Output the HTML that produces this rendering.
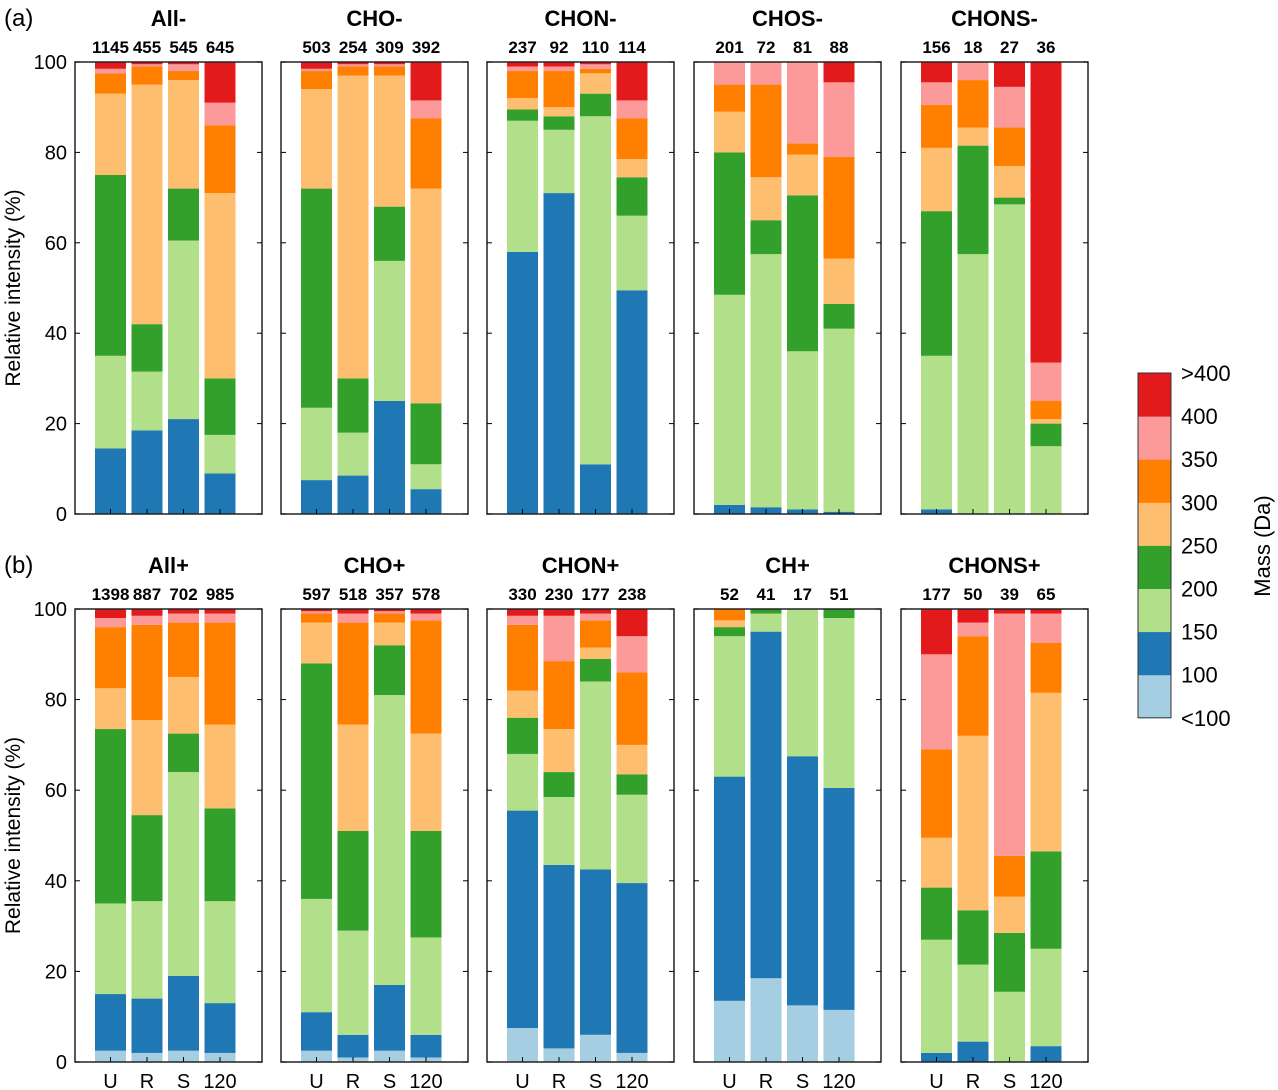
<!DOCTYPE html>
<html><head><meta charset="utf-8">
<style>
html,body{margin:0;padding:0;background:#fff;}
svg{display:block;font-family:"Liberation Sans",Arial,sans-serif;}
</style></head>
<body>
<svg id="chart" width="1278" height="1090" viewBox="0 0 1278 1090" xmlns="http://www.w3.org/2000/svg"></svg>
<script>
// ---- data ----
const categories = ["U","R","S","120"];
const massBins = ["<100","100","150","200","250","300","350",">400"];
const binColors = ["#a6cee3","#1f78b4","#b2df8a","#33a02c","#fdbf6f","#ff7f00","#fb9a99","#e31a1c"];
const colorbarLabels = [">400","400","350","300","250","200","150","100","<100"];
const yTicks = [0,20,40,60,80,100];
const panelTitles = ["All-","CHO-","CHON-","CHOS-","CHONS-","All+","CHO+","CHON+","CH+","CHONS+"];
const panelCounts = [
 [1145,455,545,645],[503,254,309,392],[237,92,110,114],[201,72,81,88],[156,18,27,36],
 [1398,887,702,985],[597,518,357,578],[330,230,177,238],[52,41,17,51],[177,50,39,65]
];
// cumulative percentage tops per bin (<100,100-150,...,>400) for U,R,S,120
const cumAllNeg = [[0,14.5,35,75,93,97.5,98.5,100],[0,18.5,31.5,42,95,99,99.5,100],[0,21,60.5,72,96,98,99.5,100],[0,9,17.5,30,71,86,91,100]];
const cumCHONeg = [[0,7.5,23.5,72,94,98,98.5,100],[0,8.5,18,30,97,99,99.5,100],[0,25,56,68,97,99,99.5,100],[0,5.5,11,24.5,72,87.5,91.5,100]];
const cumCHONNeg = [[0,58,87,89.5,92,98,99,100],[0,71,85,88,90,98,99,100],[0,11,88,93,97.5,98.5,99.5,100],[0,49.5,66,74.5,78.5,87.5,91.5,100]];
const cumCHOSNeg = [[0,2,48.5,80,89,95,100,100],[0,1.5,57.5,65,74.5,95,100,100],[0,1,36,70.5,79.5,82,100,100],[0,0.5,41,46.5,56.5,79,95.5,100]];
const cumCHONSNeg = [[0,1,35,67,81,90.5,95.5,100],[0,0,57.5,81.5,85.5,96,100,100],[0,0,68.5,70,77,85.5,94.5,100],[0,0,15,20,21,25,33.5,100]];
const cumAllPos = [[2.5,15,35,73.5,82.5,96,98,100],[2,14,35.5,54.5,75.5,96.5,98.5,100],[2.5,19,64,72.5,85,97,99,100],[2,13,35.5,56,74.5,97,99,100]];
const cumCHOPos = [[2.5,11,36,88,97,99,99.5,100],[1,6,29,51,74.5,97,99,100],[2.5,17,81,92,97,99,99.5,100],[1,6,27.5,51,72.5,97.5,99,100]];
const cumCHONPos = [[7.5,55.5,68,76,82,96.5,98.5,100],[3,43.5,58.5,64,73.5,88.5,98.5,100],[6,42.5,84,89,91.5,97.5,99,100],[2,39.5,59,63.5,70,86,94,100]];
const cumCHPos = [[13.5,63,94,96,97.5,100,100,100],[18.5,95,99,100,100,100,100,100],[12.5,67.5,100,100,100,100,100,100],[11.5,60.5,98,100,100,100,100,100]];
const cumCHONSPos = [[0,2,27,38.5,49.5,69,90,100],[0,4.5,21.5,33.5,72,94,97,100],[0,0,15.5,28.5,36.5,45.5,99,100],[0,3.5,25,46.5,81.5,92.5,99,100]];
const panelData = [cumAllNeg,cumCHONeg,cumCHONNeg,cumCHOSNeg,cumCHONSNeg,cumAllPos,cumCHOPos,cumCHONPos,cumCHPos,cumCHONSPos];

// ---- layout ----
const NS="http://www.w3.org/2000/svg";
const svg=document.getElementById('chart');
function mk(tag,attrs,parent){const e=document.createElementNS(NS,tag);for(const k in attrs)e.setAttribute(k,attrs[k]);(parent||svg).appendChild(e);return e;}
const panelLeft=[75,281,487,694,901];
const panelW=187;
const rowTop=[62,609], rowBot=[514,1062];
function yScale(row,v){return rowBot[row]-(rowBot[row]-rowTop[row])*v/100;}
function xScale(p,i){return panelLeft[p]+35.5+36.5*i;}
const barW=31;

for(let k=0;k<10;k++){
  const row=Math.floor(k/5), p=k%5;
  const g=mk('g',{});
  
  
  const data=panelData[k];
  for(let i=0;i<4;i++){
    let prev=0;
    for(let b=0;b<8;b++){
      const top=data[i][b];
      if(top>prev){
        const r=mk('rect',{x:xScale(p,i)-barW/2,y:yScale(row,top),width:barW,height:yScale(row,prev)-yScale(row,top),fill:binColors[b]},g);
        
        
      }
      prev=Math.max(prev,top);
    }
    const c=mk('text',{x:xScale(p,i),y:rowTop[row]-9,'text-anchor':'middle','font-size':17,'font-weight':'bold'},g);
    c.textContent=panelCounts[k][i];
    
    
    // x ticks
    mk('line',{x1:xScale(p,i),x2:xScale(p,i),y1:rowBot[row],y2:rowBot[row]-5,stroke:'#000','stroke-width':1},g);
    if(row===1){
      const t=mk('text',{x:xScale(p,i),y:1088,'text-anchor':'middle','font-size':20},g);
      t.textContent=categories[i];
      
      
    }
  }
  // frame
  const fr=mk('rect',{x:panelLeft[p],y:rowTop[row],width:panelW,height:rowBot[row]-rowTop[row],fill:'none',stroke:'#222','stroke-width':1.5},g);
  
  
  yTicks.forEach(v=>{
    const y=yScale(row,v);
    mk('line',{x1:panelLeft[p],x2:panelLeft[p]+5,y1:y,y2:y,stroke:'#000'},g);
    mk('line',{x1:panelLeft[p]+panelW,x2:panelLeft[p]+panelW-5,y1:y,y2:y,stroke:'#000'},g);
    if(p===0){
      const t=mk('text',{x:panelLeft[p]-8,y:y+7,'text-anchor':'end','font-size':20},g);
      t.textContent=v;
      
      
    }
  });
  const tt=mk('text',{x:panelLeft[p]+panelW/2,y:rowTop[row]-36,'text-anchor':'middle','font-size':22,'font-weight':'bold'},g);
  tt.textContent=panelTitles[k];
  
  
}
// panel letters and y titles
[["(a)",26],["(b)",573]].forEach((a,r)=>{
  const t=mk('text',{x:4,y:a[1],'font-size':24});
  t.textContent=a[0];
  
  
  const yl=mk('text',{x:0,y:0,'text-anchor':'middle','font-size':21,transform:`translate(20,${(rowTop[r]+rowBot[r])/2}) rotate(-90)`});
  yl.textContent='Relative intensity (%)';
  
  
});
// colorbar
const cbTop=373, cbStep=43.1, cbX=1138, cbW=33;
for(let b=0;b<8;b++){
  const r=mk('rect',{x:cbX,y:cbTop+(7-b)*cbStep,width:cbW,height:cbStep+0.5,fill:binColors[b]});
  
  
}
mk('rect',{x:cbX,y:cbTop,width:cbW,height:cbStep*8,fill:'none',stroke:'#333','stroke-width':1});
colorbarLabels.forEach((l,i)=>{
  const t=mk('text',{x:1181,y:cbTop+i*cbStep+8,'font-size':22});
  t.textContent=l;
  
  
});
const ct=mk('text',{x:0,y:0,'text-anchor':'middle','font-size':22,transform:'translate(1270,546) rotate(-90)'});
ct.textContent='Mass (Da)';


</script>
</body></html>
